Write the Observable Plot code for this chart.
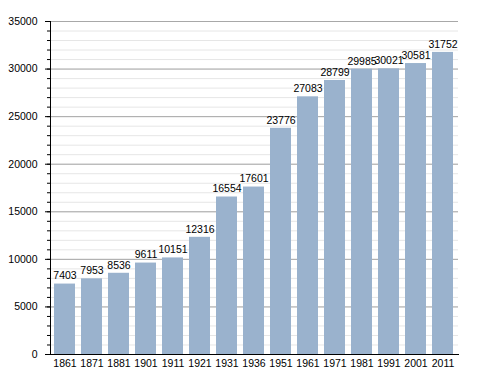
<!DOCTYPE html>
<html>
<head>
<meta charset="utf-8">
<script src="https://cdn.jsdelivr.net/npm/d3@7"></script>
<script src="https://cdn.jsdelivr.net/npm/@observablehq/plot@0.6"></script>
<style>
  body { margin: 0; background: #fff; }
  svg { font-family: "Liberation Sans", Arial, sans-serif; }
</style>
</head>
<body>
<div id="chart"></div>
<script>
const years = ["1861","1871","1881","1901","1911","1921","1931","1936","1951","1961","1971","1981","1991","2001","2011"];
const population = [7403,7953,8536,9611,10151,12316,16554,17601,23776,27083,28799,29985,30021,30581,31752];
const majorTicks = [0,5000,10000,15000,20000,25000,30000,35000];
const minorTicks = d3.range(0, 35001, 1000);

const data = years.map((y, i) => ({year: y, value: population[i]}));

const chart = Plot.plot({
  width: 488,
  height: 373,
  marginLeft: 50,
  marginRight: 30,
  marginTop: 21,
  marginBottom: 19,
  style: {fontSize: "10.5px", fontFamily: "Liberation Sans, Arial, sans-serif", color: "#000", background: "#fff"},
  x: {domain: years, paddingInner: 0.22, paddingOuter: 0.03, label: null},
  y: {domain: [0, 35000], label: null},
  marks: [
    Plot.gridY(minorTicks, {stroke: "#e6e6e6", strokeOpacity: 1}),
    Plot.gridY(majorTicks, {stroke: "#a8a8a8", strokeOpacity: 1}),
    Plot.barY(data, {x: "year", y: "value", fill: "#9ab2cd"}),
    Plot.text(data, {x: "year", y: "value", text: d => String(d.value), dy: -8, fontSize: 10.5, fill: "#000"}),
    Plot.axisY(minorTicks, {tickSize: 3, text: null, label: null, stroke: "#000"}),
    Plot.axisY(majorTicks, {tickSize: 5, tickPadding: 8, label: null, tickFormat: d => String(d), stroke: "#000"}),
    Plot.axisX({tickSize: 0, tickPadding: 5, label: null}),
    Plot.frame({anchor: "left", stroke: "#000"}),
    Plot.frame({anchor: "bottom", stroke: "#000"})
  ]
});
document.getElementById("chart").appendChild(chart);
</script>
</body>
</html>
